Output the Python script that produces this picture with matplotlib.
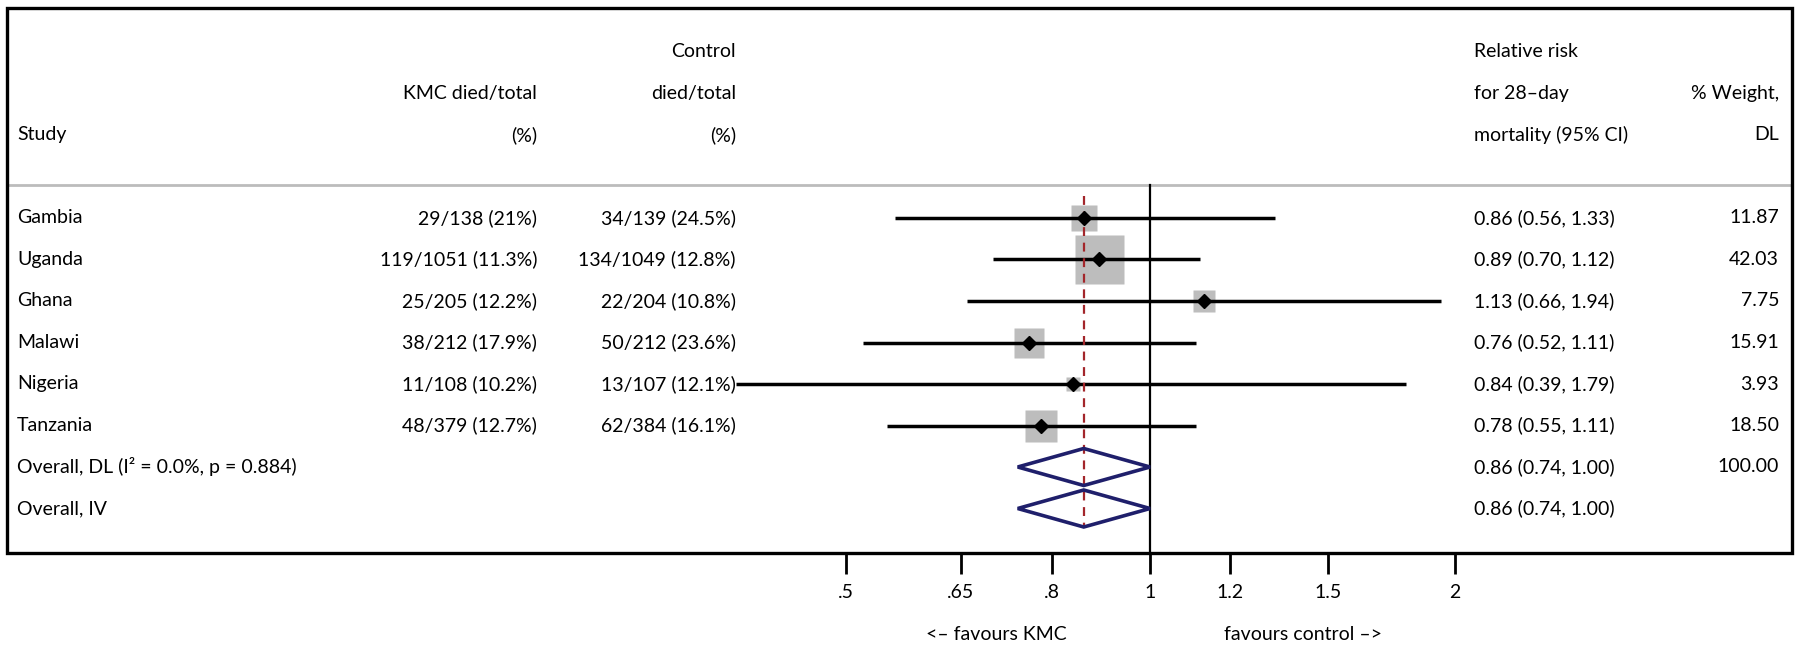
import numpy as np
import matplotlib
matplotlib.use('Agg')
from matplotlib import pyplot as plt
from matplotlib import transforms
from matplotlib.patches import Rectangle, Polygon

plt.rcParams['font.family'] = ['Lato', 'DejaVu Sans']

# data
studies = ['Gambia', 'Uganda', 'Ghana', 'Malawi', 'Nigeria', 'Tanzania']
kmc = ['29/138 (21%)', '119/1051 (11.3%)', '25/205 (12.2%)', '38/212 (17.9%)',
       '11/108 (10.2%)', '48/379 (12.7%)']
control = ['34/139 (24.5%)', '134/1049 (12.8%)', '22/204 (10.8%)', '50/212 (23.6%)',
           '13/107 (12.1%)', '62/384 (16.1%)']
rr = [0.86, 0.89, 1.13, 0.76, 0.84, 0.78]
lo = [0.56, 0.70, 0.66, 0.52, 0.39, 0.55]
hi = [1.33, 1.12, 1.94, 1.11, 1.79, 1.11]
weight = [11.87, 42.03, 7.75, 15.91, 3.93, 18.50]

overall_labels = ['Overall, DL (I\u00b2 = 0.0%, p = 0.884)', 'Overall, IV']
overall_est = [0.86, 0.86]
overall_lo = [0.74, 0.74]
overall_hi = [1.00, 1.00]
overall_weight = ['100.00', '']

xticks = [0.5, 0.65, 0.8, 1, 1.2, 1.5, 2]
xticklabels = ['.5', '.65', '.8', '1', '1.2', '1.5', '2']

W, H = 1800, 646
ROW0, ROWH = 218, 41.5  # pixel y of first study row, row pitch


def r(py):
    # pixel y -> row units
    return (py - ROW0) / ROWH


fig = plt.figure(figsize=(W / 100, H / 100), dpi=100)
ax = fig.add_axes([0, 0, 1, 1])
ax.set_xscale('log', base=2)
ax.set_xlim(2 ** ((0 - 1150) / 304.5), 2 ** ((W - 1150) / 304.5))
ax.set_ylim(r(H), r(0))
ax.axis('off')

tr = transforms.blended_transform_factory(ax.transAxes, ax.transData)
fs = 14

# outer box
ax.add_patch(Rectangle((7 / W, 1 - 553 / H), (1792 - 7) / W, (553 - 8) / H,
                       transform=ax.transAxes, fill=False, lw=2.4, ec='black', zorder=5))
# header separator
ax.plot([7 / W, 1792 / W], [r(185), r(185)], transform=tr, color='#bcbcbc', lw=2)

# header text
cols = {'study': 17 / W, 'kmc': 537 / W, 'ctrl': 736 / W, 'rr': 1474 / W, 'wt': 1779 / W}
ax.text(cols['ctrl'], -4, 'Control', transform=tr, ha='right', va='center', fontsize=fs)
ax.text(cols['rr'], -4, 'Relative risk', transform=tr, ha='left', va='center', fontsize=fs)
ax.text(cols['kmc'], -3, 'KMC died/total', transform=tr, ha='right', va='center', fontsize=fs)
ax.text(cols['ctrl'], -3, 'died/total', transform=tr, ha='right', va='center', fontsize=fs)
ax.text(cols['rr'], -3, 'for 28\u2013day', transform=tr, ha='left', va='center', fontsize=fs)
ax.text(cols['wt'], -3, '% Weight,', transform=tr, ha='right', va='center', fontsize=fs)
ax.text(cols['study'], -2, 'Study', transform=tr, ha='left', va='center', fontsize=fs)
ax.text(cols['kmc'], -2, '(%)', transform=tr, ha='right', va='center', fontsize=fs)
ax.text(cols['ctrl'], -2, '(%)', transform=tr, ha='right', va='center', fontsize=fs)
ax.text(cols['rr'], -2, 'mortality (95% CI)', transform=tr, ha='left', va='center', fontsize=fs)
ax.text(cols['wt'], -2, 'DL', transform=tr, ha='right', va='center', fontsize=fs)

# null line and pooled estimate line
ax.plot([1, 1], [r(185), r(553)], color='black', lw=1.6, zorder=2)
ax.plot([overall_est[0]] * 2, [r(196), r(526)], color='#a3262b', lw=1.6,
        ls=(0, (4, 3)), zorder=4)

# studies
for i in range(len(studies)):
    side = 49 * np.sqrt(weight[i] / 42.03) * 72 / 100
    ax.plot(rr[i], i, marker='s', ms=side, color='#bdbdbd', mec='none', zorder=1)
    ax.plot([lo[i], hi[i]], [i, i], color='black', lw=2.5, solid_capstyle='butt', zorder=3)
    ax.plot(rr[i], i, marker='D', ms=7.5, color='black', zorder=4)
    ax.text(cols['study'], i, studies[i], transform=tr, ha='left', va='center', fontsize=fs)
    ax.text(cols['kmc'], i, kmc[i], transform=tr, ha='right', va='center', fontsize=fs)
    ax.text(cols['ctrl'], i, control[i], transform=tr, ha='right', va='center', fontsize=fs)
    ax.text(cols['rr'], i, f'{rr[i]:.2f} ({lo[i]:.2f}, {hi[i]:.2f})', transform=tr,
            ha='left', va='center', fontsize=fs)
    ax.text(cols['wt'], i, f'{weight[i]:.2f}', transform=tr, ha='right', va='center', fontsize=fs)

# overall diamonds
for j in range(2):
    y = len(studies) + j
    h = 18.5 / ROWH
    ax.add_patch(Polygon([(overall_lo[j], y), (overall_est[j], y - h), (overall_hi[j], y),
                          (overall_est[j], y + h)], closed=True, fill=False,
                         ec='#1f1f6b', lw=2.6, zorder=6))
    ax.text(cols['study'], y, overall_labels[j], transform=tr, ha='left', va='center', fontsize=fs)
    ax.text(cols['rr'], y, f'{overall_est[j]:.2f} ({overall_lo[j]:.2f}, {overall_hi[j]:.2f})',
            transform=tr, ha='left', va='center', fontsize=fs)
    ax.text(cols['wt'], y, overall_weight[j], transform=tr, ha='right', va='center', fontsize=fs)

# x axis ticks drawn under the box
for t, lab in zip(xticks, xticklabels):
    ax.plot([t, t], [r(553), r(574)], color='black', lw=2, solid_capstyle='butt')
    ax.text(t, r(593), lab, ha='center', va='center', fontsize=fs)

ax.text(996 / W, r(635), '<\u2013 favours KMC', transform=tr, ha='center', va='center', fontsize=fs)
ax.text(1303 / W, r(635), 'favours control \u2013>', transform=tr, ha='center', va='center', fontsize=fs)

fig.savefig('out.png', dpi=100)
